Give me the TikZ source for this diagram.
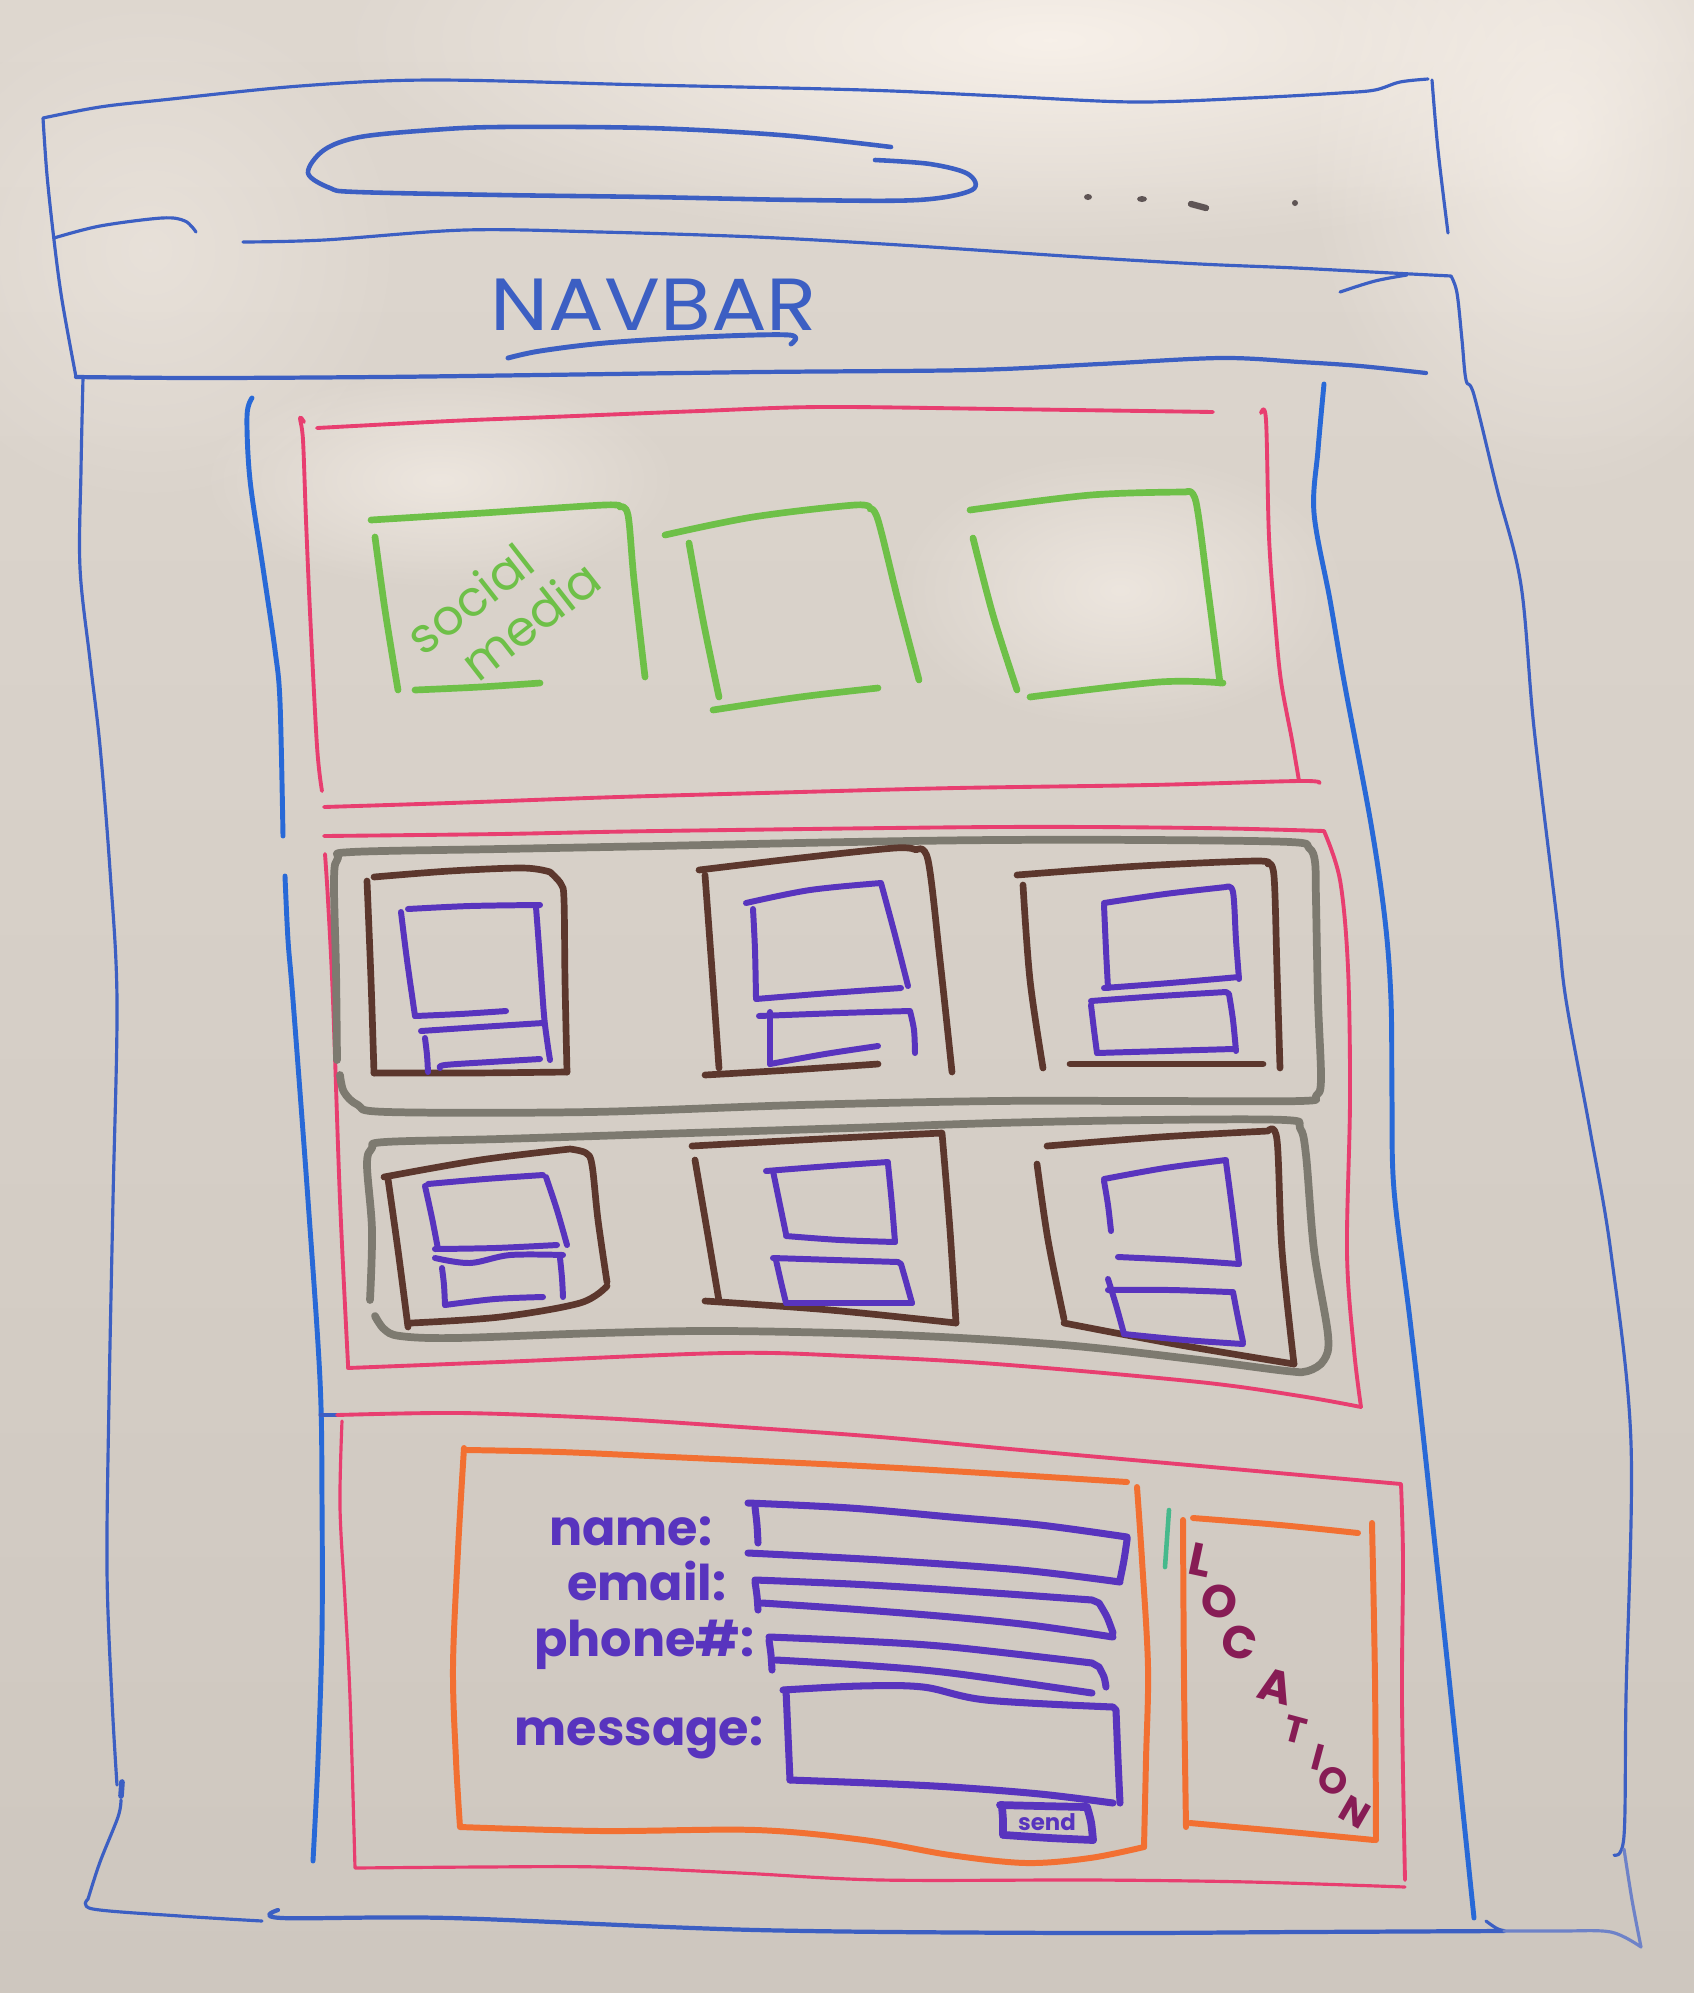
\documentclass[tikz,border=0pt]{standalone}
\usepackage{fontspec}
\setmainfont{Poppins}
\usetikzlibrary{fadings}
\tikzfading[name=softspot, inner color=transparent!0, outer color=transparent!100]

\definecolor{boardtop}{RGB}{222,215,207}
\definecolor{boardbot}{RGB}{206,199,191}
\definecolor{glare}{RGB}{250,243,236}
\definecolor{penblue}{RGB}{60,95,195}
\definecolor{penbluelight}{RGB}{110,130,200}
\definecolor{penbright}{RGB}{40,105,215}
\definecolor{penpink}{RGB}{232,62,112}
\definecolor{pengreen}{RGB}{110,192,72}
\definecolor{pengray}{RGB}{125,122,112}
\definecolor{penbrown}{RGB}{92,55,45}
\definecolor{penpurple}{RGB}{88,52,190}
\definecolor{penorange}{RGB}{242,112,50}
\definecolor{penplum}{RGB}{135,28,85}
\definecolor{penteal}{RGB}{70,185,140}
\definecolor{pendot}{RGB}{95,85,85}

\tikzset{
  hand/.style={smooth, tension=0.55},
  pen/.style={line cap=round, line join=round},
  frame/.style={pen, draw=penblue, line width=0.9pt},
  framelight/.style={pen, draw=penbluelight, line width=0.9pt},
  inner/.style={pen, draw=penbright, line width=1.4pt},
  section/.style={pen, draw=penpink, line width=1.1pt},
  social/.style={pen, draw=pengreen, line width=1.9pt},
  group/.style={pen, draw=pengray, line width=2.2pt},
  card/.style={pen, draw=penbrown, line width=1.9pt},
  widget/.style={pen, draw=penpurple, line width=1.7pt},
  formbox/.style={pen, draw=penorange, line width=1.7pt},
  label/.style={text=penpurple, font=\bfseries\fontsize{14}{17}\selectfont, inner sep=0pt},
  letter/.style={text=penplum, font=\bfseries\fontsize{13}{15}\selectfont, inner sep=0pt},
  smallletter/.style={text=penplum, font=\bfseries\fontsize{10.5}{12}\selectfont, inner sep=0pt}
}

\begin{document}
\begin{tikzpicture}[x=0.01cm, y=-0.01cm]
\useasboundingbox (0,0) rectangle (1694,1993);

% whiteboard with light reflections
\shade[top color=boardtop, bottom color=boardbot] (0,0) rectangle (1694,1993);
\fill[glare, path fading=softspot, opacity=0.9] (1050,40) ellipse (720 and 210);
\fill[glare, path fading=softspot, opacity=0.7] (1560,140) ellipse (260 and 360);
\fill[glare, path fading=softspot, opacity=0.6] (440,480) ellipse (240 and 110);
\fill[glare, path fading=softspot, opacity=0.6] (1120,590) ellipse (230 and 140);
\fill[glare, path fading=softspot, opacity=0.4] (150,250) ellipse (260 and 260);

% ---------- browser window ----------
\draw[frame] plot[hand] coordinates {(76,377) (62,300) (54,240) (47,175) (43,118)}
  -- plot[hand] coordinates {(43,118) (100,107) (162,100) (300,86) (432,80) (648,85) (864,90) (1000,96) (1134,102) (1250,98) (1340,93) (1375,90) (1400,82) (1428,79)};
\draw[frame] plot[hand] coordinates {(1432,80) (1438,150) (1448,233)};

% address bar
\draw[frame, line width=1.3pt] plot[hand] coordinates {(891,147) (780,135) (648,128) (500,127) (432,130) (360,137) (324,150) (308,173) (330,188) (357,192) (500,195) (648,197) (800,200) (918,200) (972,190) (968,174) (930,164) (875,160)};

% menu dots
\fill[pendot] (1088,197) ellipse (4 and 3);
\fill[pendot] (1142,199) ellipse (5 and 3);
\draw[pendot, line width=1.8pt, line cap=round] (1191,204) -- (1206,208);
\fill[pendot] (1295,203) circle (3);

% chrome / navbar separator
\draw[frame] plot[hand] coordinates {(54,238) (100,226) (162,218) (185,221) (196,232)};
\draw[frame] plot[hand] coordinates {(243,242) (324,240) (465,230) (600,232) (756,237) (900,245) (1080,257) (1200,264) (1296,268) (1372,272) (1451,276)}
  -- plot[hand] coordinates {(1451,276) (1457,293) (1462,340) (1466,380) (1474,395) (1497,489) (1521,585) (1534,728) (1557,920) (1566,1000) (1590,1130) (1611,1253) (1631,1443) (1626,1697) (1624,1836) (1614,1855)};
\draw[frame] plot[hand] coordinates {(1340,292) (1375,281) (1407,275)};

% navbar
\node[text=penblue, font=\fontsize{21}{24}\selectfont, inner sep=0pt, xscale=1.12] (navbar) at (654,305) {NAVBAR};
\draw[frame, line width=1.4pt] plot[hand] coordinates {(508,358) (540,351) (605,343) (700,337) (789,335) (791,344)};
\draw[frame, line width=1.2pt] plot[hand] coordinates {(76,377) (200,378) (380,377) (540,375) (760,372) (972,370) (1100,364) (1221,358) (1300,362) (1360,366) (1426,373)};

% window sides and bottom
\draw[frame] plot[hand] coordinates {(83,378) (81,470) (80,568) (90,660) (100,746) (110,870) (117,1000) (113,1200) (109,1400) (107,1570) (112,1700) (117,1785)};
\draw[frame, line width=1.6pt] (122,1782) -- (121,1796);
\draw[frame] plot[hand] coordinates {(121,1800) (118,1817) (100,1862) (88,1899)}
  -- plot[hand] coordinates {(88,1899) (93,1909) (180,1916) (262,1921)};
\draw[frame, line width=1.2pt] plot[hand] coordinates {(278,1910) (282,1918) (450,1918) (756,1930) (1080,1933) (1300,1932) (1504,1931)};
\draw[frame] plot[hand] coordinates {(1486,1921) (1496,1928) (1504,1931)};
\draw[framelight] plot[hand] coordinates {(1624,1849) (1632,1900) (1641,1947)}
  -- plot[hand] coordinates {(1641,1947) (1611,1932) (1560,1931) (1504,1931)};

% ---------- content container ----------
\draw[inner] plot[hand] coordinates {(252,398) (247,416) (250,480) (263,568) (275,650) (280,702) (283,836)};
\draw[inner] plot[hand] coordinates {(285,876) (288,940) (293,1000) (308,1200) (320,1380) (322,1500) (322,1633) (318,1760) (313,1861)};
\draw[inner] plot[hand] coordinates {(1324,384) (1318,450) (1314,513) (1330,600) (1344,681) (1371,824) (1385,920) (1391,1000) (1392,1100) (1394,1190) (1410,1320) (1424,1443) (1451,1697) (1474,1918)};
\draw[frame] (320,1415) -- (337,1415);

% ---------- social media section ----------
\draw[section] plot[hand] coordinates {(317,428) (450,421) (550,417) (700,411) (821,407) (1000,409) (1213,412)};
\draw[section] plot[hand] coordinates {(304,422) (300,418) (303,440) (306,520) (310,612) (317,746) (322,791)};
\draw[section] plot[hand] coordinates {(324,807) (450,803) (618,797) (800,792) (956,788) (1150,785) (1299,781) (1319,783)};
\draw[section] plot[hand] coordinates {(1261,413) (1266,420) (1269,537) (1275,620) (1281,681) (1292,740) (1299,781)};

\draw[social] plot[hand] coordinates {(371,520) (483,513) (604,505) (620,507)} -- plot[hand] coordinates {(620,507) (628,515) (634,580) (645,677)};
\draw[social] plot[hand] coordinates {(375,537) (385,610) (398,690)};
\draw[social] plot[hand] coordinates {(415,690) (480,687) (540,683)};
\node[text=pengreen, font=\fontsize{14}{15.5}\selectfont, inner sep=0pt, rotate=38, align=left] (socialmedia) at (503,607) {social\\\hspace*{0.55em}media};

\draw[social] plot[hand] coordinates {(665,535) (753,517) (855,505) (870,509)} -- plot[hand] coordinates {(870,509) (878,520) (898,600) (919,680)};
\draw[social] plot[hand] coordinates {(689,543) (703,620) (719,697)};
\draw[social] plot[hand] coordinates {(713,710) (800,697) (878,688)};

\draw[social] plot[hand] coordinates {(970,510) (1091,495) (1186,492)} -- plot[hand] coordinates {(1186,492) (1196,502) (1208,590) (1220,683)};
\draw[social] plot[hand] coordinates {(973,538) (993,615) (1017,690)};
\draw[social] plot[hand] coordinates {(1030,697) (1159,682) (1223,683)};

% ---------- cards section ----------
\draw[section] plot[hand] coordinates {(324,836) (500,834) (658,831) (996,827) (1200,828) (1324,831)}
  -- plot[hand] coordinates {(1324,831) (1340,880) (1348,968) (1350,1100) (1347,1253) (1354,1350) (1361,1407)};
\draw[section] plot[hand] coordinates {(325,854) (328,900) (333,1000) (340,1200) (348,1364)}
  -- plot[hand] coordinates {(348,1368) (500,1362) (726,1353) (850,1356) (996,1364) (1199,1382) (1300,1396) (1361,1407)};

% card rows
\draw[group] plot[hand] coordinates {(337,1060) (336,970) (334,880) (338,858) (352,852) (500,849) (658,846) (850,842) (996,840) (1150,840) (1290,842) (1309,848) (1315,862) (1316,900) (1318,1000) (1321,1079) (1316,1096) (1300,1101) (1150,1101) (996,1101) (800,1105) (590,1112) (388,1112) (358,1105) (344,1092) (340,1075)};
\draw[group] plot[hand] coordinates {(370,1300) (372,1230) (367,1165) (372,1148) (385,1142) (500,1139) (658,1134) (850,1128) (996,1123) (1150,1120) (1285,1120) (1300,1128) (1306,1155) (1314,1250) (1328,1335) (1324,1360) (1308,1371) (1287,1371) (1200,1360) (1064,1345) (900,1335) (726,1331) (600,1333) (455,1338) (400,1336) (384,1329) (375,1316)};

% cards, first row
\draw[card] plot[hand] coordinates {(374,877) (450,871) (523,868) (550,872)} -- plot[hand] coordinates {(550,872) (561,884) (564,900) (565,980) (567,1072)};
\draw[card] plot[hand] coordinates {(367,881) (371,980) (374,1073)};
\draw[card] plot[hand] coordinates {(374,1073) (470,1073) (567,1072)};
\draw[widget] plot[hand] coordinates {(408,909) (470,906) (540,905)};
\draw[widget] plot[hand] coordinates {(401,912) (407,960) (415,1016)};
\draw[widget] plot[hand] coordinates {(536,907) (540,960) (544,1015) (547,1040) (550,1060)};
\draw[widget] plot[hand] coordinates {(415,1016) (460,1014) (506,1011)};
\draw[widget] plot[hand] coordinates {(421,1031) (480,1027) (543,1023)};
\draw[widget] plot[hand] coordinates {(425,1038) (427,1055) (428,1072)};
\draw[widget] plot[hand] coordinates {(440,1068) (445,1065) (490,1062) (540,1059)};

\draw[card] plot[hand] coordinates {(699,870) (800,858) (895,848) (916,850)} -- plot[hand] coordinates {(916,850) (928,860) (940,960) (952,1072)};
\draw[card] plot[hand] coordinates {(705,875) (712,970) (719,1068)};
\draw[card] plot[hand] coordinates {(705,1075) (790,1070) (878,1064)};
\draw[widget] plot[hand] coordinates {(746,903) (810,890) (881,883)} -- plot[hand] coordinates {(881,883) (895,935) (908,986)};
\draw[widget] plot[hand] coordinates {(753,909) (755,950) (756,998)};
\draw[widget] plot[hand] coordinates {(756,999) (830,993) (901,988)};
\draw[widget] plot[hand] coordinates {(759,1016) (840,1013) (910,1011)} -- plot[hand] coordinates {(910,1011) (914,1030) (915,1053)};
\draw[widget] plot[hand] coordinates {(770,1012) (770,1040) (770,1064)};
\draw[widget] plot[hand] coordinates {(770,1064) (825,1054) (878,1046)};

\draw[card] plot[hand] coordinates {(1017,875) (1140,866) (1255,861) (1268,864)} -- plot[hand] coordinates {(1268,864) (1274,876) (1277,970) (1280,1068)};
\draw[card] plot[hand] coordinates {(1023,885) (1030,980) (1043,1068)};
\draw[card] plot[hand] coordinates {(1070,1064) (1170,1064) (1263,1064)};
\draw[widget] plot[hand] coordinates {(1104,903) (1165,894) (1226,887)} -- plot[hand] coordinates {(1226,887) (1233,892) (1236,940) (1239,979)};
\draw[widget] plot[hand] coordinates {(1104,905) (1106,950) (1108,988)};
\draw[widget] plot[hand] coordinates {(1104,988) (1170,983) (1239,977)};
\draw[widget] plot[hand] coordinates {(1091,1001) (1160,996) (1226,992)} -- plot[hand] coordinates {(1229,994) (1233,1020) (1236,1051)};
\draw[widget] plot[hand] coordinates {(1091,1005) (1094,1030) (1097,1053)};
\draw[widget] plot[hand] coordinates {(1097,1053) (1165,1051) (1233,1049)};

% cards, second row
\draw[card] plot[hand] coordinates {(384,1177) (480,1160) (570,1149)} -- plot[hand] coordinates {(570,1149) (586,1153) (592,1165) (598,1220) (607,1282)};
\draw[card] plot[hand] coordinates {(607,1286) (580,1303) (500,1317) (411,1323)};
\draw[card] plot[hand] coordinates {(388,1179) (398,1250) (408,1327)};
\draw[widget] plot[hand] coordinates {(428,1184) (485,1179) (543,1175)};
\draw[widget] plot[hand] coordinates {(425,1186) (432,1218) (438,1249)};
\draw[widget] plot[hand] coordinates {(546,1177) (557,1210) (567,1245)};
\draw[widget] plot[hand] coordinates {(435,1249) (495,1248) (557,1245)};
\draw[widget] plot[hand] coordinates {(435,1258) (470,1263) (510,1255) (563,1255)};
\draw[widget] plot[hand] coordinates {(442,1268) (444,1285) (445,1305)};
\draw[widget] plot[hand] coordinates {(560,1258) (562,1278) (563,1297)};
\draw[widget] plot[hand] coordinates {(445,1305) (495,1299) (543,1297)};

\draw[card] plot[hand] coordinates {(692,1146) (820,1139) (942,1133)} -- plot[hand] coordinates {(942,1133) (950,1230) (956,1323)};
\draw[card] plot[hand] coordinates {(695,1160) (707,1230) (719,1301)};
\draw[card] plot[hand] coordinates {(705,1301) (830,1310) (956,1323)};
\draw[widget] plot[hand] coordinates {(766,1171) (830,1166) (888,1162)} -- plot[hand] coordinates {(888,1164) (892,1205) (895,1242)};
\draw[widget] plot[hand] coordinates {(773,1171) (780,1205) (786,1234)};
\draw[widget] plot[hand] coordinates {(786,1236) (840,1240) (895,1242)};
\draw[widget] plot[hand] coordinates {(773,1258) (835,1260) (898,1262)} -- plot[hand] coordinates {(901,1264) (907,1285) (912,1303)};
\draw[widget] plot[hand] coordinates {(776,1260) (781,1282) (786,1303)};
\draw[widget] plot[hand] coordinates {(786,1303) (850,1303) (912,1303)};

\draw[card] plot[hand] coordinates {(1047,1146) (1160,1137) (1268,1131)} -- plot[hand] coordinates {(1268,1131) (1277,1140) (1282,1250) (1294,1364)};
\draw[card] plot[hand] coordinates {(1037,1164) (1048,1240) (1064,1319)};
\draw[card] plot[hand] coordinates {(1064,1323) (1180,1345) (1294,1364)};
\draw[widget] plot[hand] coordinates {(1104,1179) (1165,1168) (1226,1160)} -- plot[hand] coordinates {(1226,1162) (1233,1215) (1239,1264)};
\draw[widget] plot[hand] coordinates {(1104,1181) (1108,1205) (1111,1231)};
\draw[widget] plot[hand] coordinates {(1118,1257) (1180,1260) (1239,1264)};
\draw[widget] plot[hand] coordinates {(1108,1290) (1170,1290) (1229,1292)} -- plot[hand] coordinates {(1233,1292) (1238,1318) (1243,1342)};
\draw[widget] plot[hand] coordinates {(1108,1279) (1116,1305) (1124,1334)};
\draw[widget] plot[hand] coordinates {(1124,1334) (1185,1340) (1243,1344)};

% ---------- contact section ----------
\draw[section] plot[hand] coordinates {(337,1415) (460,1413) (600,1418) (741,1427) (880,1437) (1021,1450) (1200,1466) (1401,1484)}
  -- plot[hand] coordinates {(1401,1484) (1403,1560) (1402,1700) (1405,1880)};
\draw[section, line width=0.9pt] plot[hand] coordinates {(342,1421) (340,1507) (345,1600) (350,1697) (355,1868)}
  -- plot[hand] coordinates {(355,1868) (480,1867) (601,1867) (740,1873) (881,1880) (1092,1880) (1250,1882) (1405,1887)};

% contact form
\draw[formbox] plot[hand] coordinates {(467,1450) (560,1452) (671,1457) (780,1462) (881,1467) (1000,1474) (1127,1482)};
\draw[formbox] plot[hand] coordinates {(1137,1487) (1142,1560) (1148,1667) (1146,1760) (1144,1847)};
\draw[formbox] plot[hand] coordinates {(464,1448) (458,1550) (453,1667) (456,1760) (460,1827)}
  -- plot[hand] coordinates {(460,1827) (601,1831) (756,1830) (864,1840) (950,1855) (1026,1863) (1090,1858) (1144,1847)};

\node[label, anchor=base east] (lname) at (713,1545) {name:};
\node[label, anchor=base east] (lemail) at (727,1600) {email:};
\node[label, anchor=base east] (lphone) at (755,1656) {phone\#:};
\node[label, anchor=base east] (lmessage) at (764,1745) {message:};

\draw[widget, line width=2pt] plot[hand] coordinates {(748,1503) (850,1508) (951,1517) (1040,1525) (1127,1537)} -- plot[hand] coordinates {(1127,1540) (1124,1560) (1120,1580)};
\draw[widget, line width=2pt] plot[hand] coordinates {(755,1507) (757,1525) (758,1543)};
\draw[widget, line width=2pt] plot[hand] coordinates {(748,1553) (881,1560) (1021,1570) (1120,1582)};

\draw[widget, line width=2pt] plot[hand] coordinates {(755,1580) (851,1584) (951,1590) (1092,1600)} -- plot[hand] coordinates {(1099,1603) (1107,1617) (1113,1633)};
\draw[widget, line width=2pt] plot[hand] coordinates {(755,1582) (757,1596) (758,1610)};
\draw[widget, line width=2pt] plot[hand] coordinates {(762,1603) (851,1609) (951,1617) (1030,1625) (1113,1637)};

\draw[widget, line width=2pt] plot[hand] coordinates {(769,1637) (860,1641) (951,1647) (1092,1663)} -- plot[hand] coordinates {(1099,1667) (1104,1677) (1106,1687)};
\draw[widget, line width=2pt] plot[hand] coordinates {(769,1640) (771,1655) (772,1670)};
\draw[widget, line width=2pt] plot[hand] coordinates {(776,1660) (860,1665) (951,1673) (1092,1693)};

\draw[widget, line width=2pt] plot[hand] coordinates {(783,1690) (860,1686) (923,1687) (986,1700) (1113,1707)} -- plot[hand] coordinates {(1116,1710) (1118,1760) (1120,1803)};
\draw[widget, line width=2pt] plot[hand] coordinates {(786,1690) (788,1735) (790,1780)};
\draw[widget, line width=2pt] plot[hand] coordinates {(790,1780) (870,1783) (951,1787) (1040,1794) (1113,1803)};

% send button
\draw[widget, line width=2.2pt] plot[hand] coordinates {(1000,1805) (1040,1806) (1087,1807)} -- plot[hand] coordinates {(1087,1807) (1091,1822) (1093,1840)};
\draw[widget, line width=2.2pt] plot[hand] coordinates {(1002,1807) (1003,1820) (1003,1835)};
\draw[widget, line width=2.2pt] plot[hand] coordinates {(1005,1835) (1050,1838) (1093,1840)};
\node[text=penpurple, font=\bfseries\fontsize{6.5}{7}\selectfont, inner sep=0pt] (send) at (1047,1822) {send};

% location block
\draw[pen, draw=penteal, line width=1.3pt] (1169,1510) -- (1165,1567);
\draw[formbox] plot[hand] coordinates {(1193,1518) (1280,1525) (1358,1533)};
\draw[formbox] plot[hand] coordinates {(1372,1523) (1375,1680) (1376,1840)};
\draw[formbox] plot[hand] coordinates {(1183,1520) (1184,1680) (1186,1827)};
\draw[formbox] plot[hand] coordinates {(1190,1823) (1290,1832) (1374,1840)};

\node[letter, rotate=-12] (loc1) at (1200,1560) {L};
\node[letter, rotate=-12] (loc2) at (1219,1601) {O};
\node[letter, rotate=-15] (loc3) at (1239,1642) {C};
\node[letter, rotate=-15] (loc4) at (1276,1686) {A};
\node[smallletter, rotate=-15] (loc5) at (1295,1730) {T};
\node[smallletter, rotate=-15] (loc6) at (1318,1757) {I};
\node[smallletter, rotate=-25] (loc7) at (1333,1781) {O};
\node[smallletter, rotate=-30] (loc8) at (1355,1812) {N};

\end{tikzpicture}
\end{document}
